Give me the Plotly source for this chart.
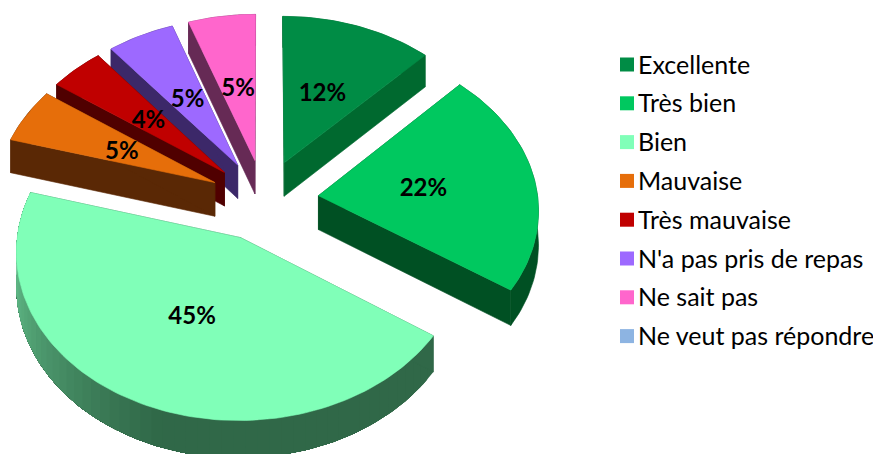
import math
import plotly.graph_objects as go

categories = ["Excellente", "Très bien", "Bien", "Mauvaise", "Très mauvaise",
              "N'a pas pris de repas", "Ne sait pas", "Ne veut pas répondre"]
values = [12.2, 22.2, 45.0, 5.4, 4.4, 5.4, 5.4, 0]
top_colors = ["#008C45", "#00C85F", "#80FFB8", "#E66E0A", "#C00000", "#9D69FF", "#FF66CC", "#8DB4E2"]
wall_colors = ["#00692F", "#005023", "#306848", "#5A2805", "#500000", "#3C2869", "#662A55", "#5A7090"]

W, H = 881, 454
PAGE_MARGIN = 8        # the browser's default body margin
CX, CY = 264, 200      # pie centre on the page
A, B = 219.5, 163      # ellipse radii
PERSP = 0.076
EXPLODE = 0.25
DEPTH = 34
LABEL_RADII = [0.50, 0.485, 0.49, 0.485, 0.50, 0.50, 0.49]
LABEL_DY = 3


def proj(X, Y, z=0.0):
    s = 1 / (1 + PERSP * Y)
    return CX + A * X * s, CY - B * Y * s + z * s


def hexrgb(c):
    return tuple(int(c[i:i + 2], 16) for i in (1, 3, 5))


def poly(pts, color, lw=0.6):
    xs = [p[0] for p in pts] + [pts[0][0]]
    ys = [p[1] for p in pts] + [pts[0][1]]
    return go.Scatter(x=xs, y=ys, mode="lines", fill="toself", fillcolor=color,
                      line=dict(color=color, width=lw), hoverinfo="skip", showlegend=False)


def band(rim_part):
    return [proj(X, Y) for X, Y in rim_part] + [proj(X, Y, DEPTH) for X, Y in reversed(rim_part)]


total = sum(values)
slices = []
start = 0.0
for i, v in enumerate(values):
    if v > 0:
        sweep = v / total * 2 * math.pi
        mid = start + sweep / 2
        slices.append((i, start, start + sweep, mid))
        start += sweep

fig = go.Figure()
for i, t0, t1, mid in sorted(slices, key=lambda s: -math.cos(s[3])):
    ex, ey = EXPLODE * math.sin(mid), EXPLODE * math.cos(mid)
    n = max(12, int((t1 - t0) * 40))
    angles = [t0 + (t1 - t0) * k / n for k in range(n + 1)]
    rim = [(ex + math.sin(t), ey + math.cos(t)) for t in angles]
    base = hexrgb(wall_colors[i])
    if categories[i] == "Bien":
        for k in range(0, n, 2):
            deg = math.degrees(angles[k])
            g = min(1.0, max(0.0, (deg - 197) / 78)) ** 1.1
            col = "rgb(%d,%d,%d)" % tuple(b + (l - b) * g for b, l in zip(base, (108, 205, 150)))
            fig.add_trace(poly(band(rim[k:]), col, lw=0))
    else:
        fig.add_trace(poly(band(rim), wall_colors[i]))
    for X, Y in (rim[0], rim[-1]):
        fig.add_trace(poly([proj(ex, ey), proj(X, Y), proj(X, Y, DEPTH), proj(ex, ey, DEPTH)], wall_colors[i]))
    fig.add_trace(poly([proj(ex, ey)] + [proj(X, Y) for X, Y in rim], top_colors[i]))

lx, ly, lt = [], [], []
for i, t0, t1, mid in slices:
    r = EXPLODE + LABEL_RADII[i]
    p = proj(r * math.sin(mid), r * math.cos(mid))
    lx.append(p[0]); ly.append(p[1] + LABEL_DY); lt.append("%d%%" % int(values[i]))
fig.add_trace(go.Scatter(x=lx, y=ly, mode="text", text=lt, hoverinfo="skip", showlegend=False,
                         textfont=dict(family="Lato", size=24, color="black", weight=700)))

LEG_X, LEG_Y0, LEG_DY = 627, 64.5, 38.8
for k, (name, c) in enumerate(zip(categories, top_colors)):
    y = LEG_Y0 + k * LEG_DY
    fig.add_trace(go.Scatter(x=[LEG_X], y=[y], mode="markers", name=name, hoverinfo="skip", showlegend=False,
                             marker=dict(symbol="square", size=14, color=c, line=dict(width=0))))
    fig.add_annotation(x=LEG_X + 9, y=y - 1, text=name, showarrow=False, xanchor="left", yanchor="middle",
                       font=dict(family="Lato", size=25, color="black"))

fig.update_layout(
    width=W, height=H, margin=dict(l=0, r=0, t=0, b=0),
    paper_bgcolor="white", plot_bgcolor="white", showlegend=False,
    xaxis=dict(range=[PAGE_MARGIN, W + PAGE_MARGIN], visible=False, fixedrange=True),
    yaxis=dict(range=[H + PAGE_MARGIN, PAGE_MARGIN], visible=False, fixedrange=True),
)
fig.write_html("out.html", config={"displayModeBar": False})
